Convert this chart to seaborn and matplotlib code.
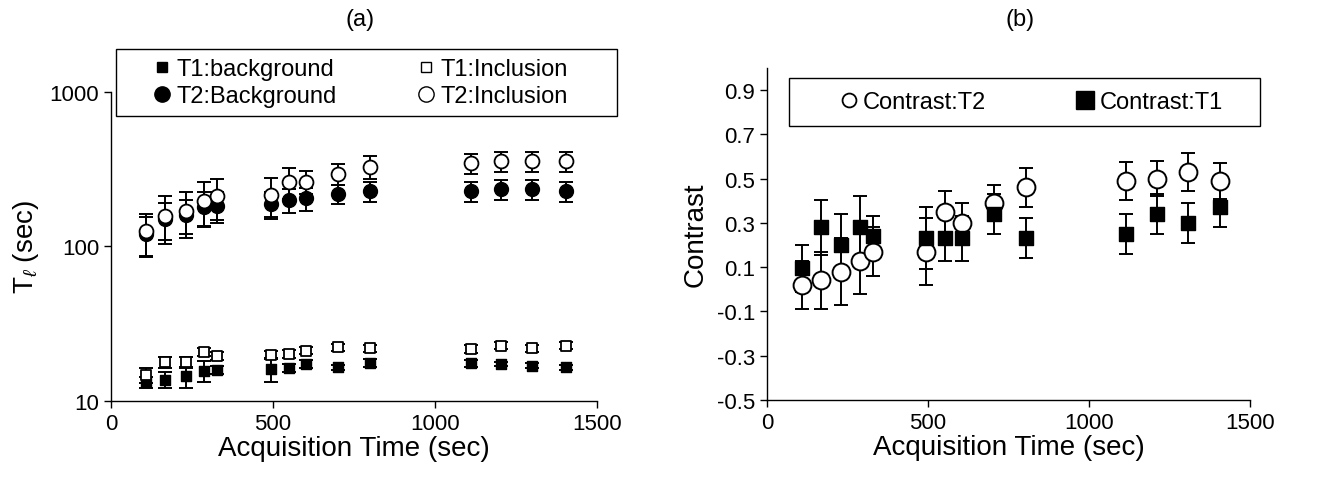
import numpy as np
import pandas as pd
import seaborn as sns
import matplotlib.pyplot as plt
from matplotlib.lines import Line2D
from matplotlib.patches import Rectangle

# acquisition times (sec)
time_a = [108, 167, 231, 288, 328, 493, 549, 602, 701, 799, 1110, 1204, 1300, 1403]
time_b = [110, 168, 230, 288, 330, 495, 552, 605, 705, 805, 1115, 1210, 1307, 1408]

# panel (a): relaxation times
t1_bg = [13.2, 13.7, 14.4, 15.7, 15.9, 16.1, 16.4, 17.4, 16.5, 17.6, 17.5, 17.4, 16.9, 16.5]
t1_bg_err = [1.0, 1.6, 2.3, 2.5, 1.0, 2.9, 1.0, 1.0, 0.6, 1.0, 0.8, 0.6, 0.6, 0.6]
t1_inc = [14.7, 17.8, 17.8, 20.7, 19.5, 19.9, 20.1, 21.2, 22.3, 21.9, 21.7, 22.8, 21.9, 22.8]
t1_inc_err = [1.7, 1.4, 1.4, 1.2, 1.2, 1.3, 1.2, 1.2, 1.2, 1.2, 1.2, 1.2, 1.2, 1.2]
t2_bg = [120, 150, 160, 179, 184, 188, 200, 205, 219, 228, 228, 236, 236, 228]
t2_bg_err = [35, 40, 40, 45, 42, 38, 35, 35, 30, 35, 33, 35, 35, 35]
t2_inc = [125, 158, 169, 198, 211, 216, 263, 263, 295, 329, 345, 356, 356, 356]
t2_inc_err = [38, 55, 56, 63, 63, 60, 60, 45, 45, 55, 50, 55, 55, 55]

# panel (b): contrast
c_t2 = [0.02, 0.04, 0.08, 0.13, 0.17, 0.17, 0.35, 0.30, 0.39, 0.46, 0.49, 0.50, 0.53, 0.49]
c_t2_err = [0.11, 0.13, 0.15, 0.15, 0.11, 0.15, 0.095, 0.09, 0.08, 0.09, 0.085, 0.08, 0.085, 0.08]
c_t1 = [0.095, 0.28, 0.20, 0.28, 0.24, 0.23, 0.23, 0.23, 0.34, 0.23, 0.25, 0.34, 0.30, 0.37]
c_t1_err = [0.105, 0.125, 0.14, 0.14, 0.09, 0.14, 0.10, 0.10, 0.09, 0.09, 0.09, 0.09, 0.09, 0.09]

sns.set_style("ticks")
plt.rcParams['font.family'] = ['Liberation Sans', 'DejaVu Sans']
plt.rcParams['mathtext.fontset'] = 'custom'
plt.rcParams['mathtext.rm'] = 'Liberation Sans'
plt.rcParams['mathtext.it'] = 'Liberation Sans:italic'
plt.rcParams['text.color'] = 'black'
plt.rcParams['axes.labelcolor'] = 'black'
plt.rcParams['xtick.color'] = 'black'
plt.rcParams['ytick.color'] = 'black'

W, H = 1340, 489
fig = plt.figure(figsize=(13.4, 4.89), dpi=100)
ax1 = fig.add_axes([0.0828, 0.178, 0.3627, 0.632])
ax2 = fig.add_axes([0.5724, 0.180, 0.3604, 0.679])

eb = dict(fmt='none', ecolor='black', elinewidth=1.4, capsize=5, capthick=1.4, zorder=1)
tick_fs = 16
lab_fs = 20

# ---- panel (a)
ax1.errorbar(time_a, t2_bg, yerr=t2_bg_err, **eb)
ax1.errorbar(time_a, t2_inc, yerr=t2_inc_err, **eb)
ax1.errorbar(time_a, t1_bg, yerr=t1_bg_err, **eb)
ax1.errorbar(time_a, t1_inc, yerr=t1_inc_err, **eb)
sns.scatterplot(x=time_a, y=t2_bg, marker='o', color='black', edgecolor='black',
                s=100, linewidth=1, ax=ax1, zorder=3)
sns.scatterplot(x=time_a, y=t2_inc, marker='o', color='white', edgecolor='black',
                s=100, linewidth=1.3, ax=ax1, zorder=4)
sns.scatterplot(x=time_a, y=t1_bg, marker='s', color='black', edgecolor='black',
                s=50, linewidth=1, ax=ax1, zorder=3)
sns.scatterplot(x=time_a, y=t1_inc, marker='s', color='white', edgecolor='black',
                s=50, linewidth=1.3, ax=ax1, zorder=4)
ax1.set_yscale('log')
ax1.set_ylim(10, 1000)
ax1.set_xlim(0, 1500)
ax1.set_xticks([0, 500, 1000, 1500])
ax1.set_yticks([10, 100, 1000])
ax1.set_yticklabels(['10', '100', '1000'])
ax1.minorticks_off()
ax1.set_xlabel('Acquisition Time (sec)', fontsize=lab_fs, labelpad=1)
ax1.set_ylabel(r'T$_{\ell}$ (sec)', fontsize=lab_fs, labelpad=6)

h_a = [Line2D([], [], ls='none', marker='s', ms=7, mfc='black', mec='black'),
       Line2D([], [], ls='none', marker='o', ms=11, mfc='black', mec='black'),
       Line2D([], [], ls='none', marker='s', ms=7, mfc='white', mec='black'),
       Line2D([], [], ls='none', marker='o', ms=11, mfc='white', mec='black')]
l_a = ['T1:background', 'T2:Background', 'T1:Inclusion', 'T2:Inclusion']
fig.add_artist(Rectangle((116 / W, 1 - 117 / H), 501 / W, 67 / H, transform=fig.transFigure,
                         fill=False, edgecolor='black', linewidth=1.0))
fig.legend(h_a, l_a, ncol=2, loc='center', fontsize=17,
           bbox_to_anchor=(360 / W, 1 - 83.5 / H), frameon=False,
           handletextpad=0.2, handlelength=0.8, labelspacing=0.2, columnspacing=3.4,
           borderpad=0, borderaxespad=0)

# ---- panel (b)
ax2.errorbar(time_b, c_t1, yerr=c_t1_err, **eb)
ax2.errorbar(time_b, c_t2, yerr=c_t2_err, **eb)
sns.scatterplot(x=time_b, y=c_t2, marker='o', color='white', edgecolor='black',
                s=165, linewidth=1.4, ax=ax2, zorder=3)
sns.scatterplot(x=time_b, y=c_t1, marker='s', color='black', edgecolor='black',
                s=110, linewidth=1, ax=ax2, zorder=4)
ax2.set_xlim(0, 1500)
ax2.set_ylim(-0.5, 1.0)
ax2.set_xticks([0, 500, 1000, 1500])
ax2.set_yticks(np.arange(-0.5, 0.95, 0.2))
ax2.set_yticklabels(['-0.5', '-0.3', '-0.1', '0.1', '0.3', '0.5', '0.7', '0.9'])
ax2.set_xlabel('Acquisition Time (sec)', fontsize=lab_fs, labelpad=1)
ax2.set_ylabel('Contrast', fontsize=lab_fs, labelpad=6)

h_b = [Line2D([], [], ls='none', marker='o', ms=10, mfc='white', mec='black', mew=1.3),
       Line2D([], [], ls='none', marker='s', ms=13, mfc='black', mec='black')]
fig.add_artist(Rectangle((789 / W, 1 - 127 / H), 471 / W, 48 / H, transform=fig.transFigure,
                         fill=False, edgecolor='black', linewidth=1.0))
fig.legend(h_b, ['Contrast:T2', 'Contrast:T1'], ncol=2, loc='center', fontsize=17,
           bbox_to_anchor=(1031 / W, 1 - 103 / H), frameon=False,
           handletextpad=0.2, handlelength=0.8, columnspacing=3.8,
           borderpad=0, borderaxespad=0)

for ax in (ax1, ax2):
    sns.despine(ax=ax)
    ax.tick_params(labelsize=tick_fs, length=5, width=1, color='black', labelcolor='black')
    for sp in ax.spines.values():
        sp.set_color('black')
        sp.set_linewidth(1)

fig.text(360 / W, 1 - 20 / H, '(a)', fontsize=17, ha='center', va='center')
fig.text(1020 / W, 1 - 20 / H, '(b)', fontsize=17, ha='center', va='center')

fig.savefig('out.png', dpi=100)
